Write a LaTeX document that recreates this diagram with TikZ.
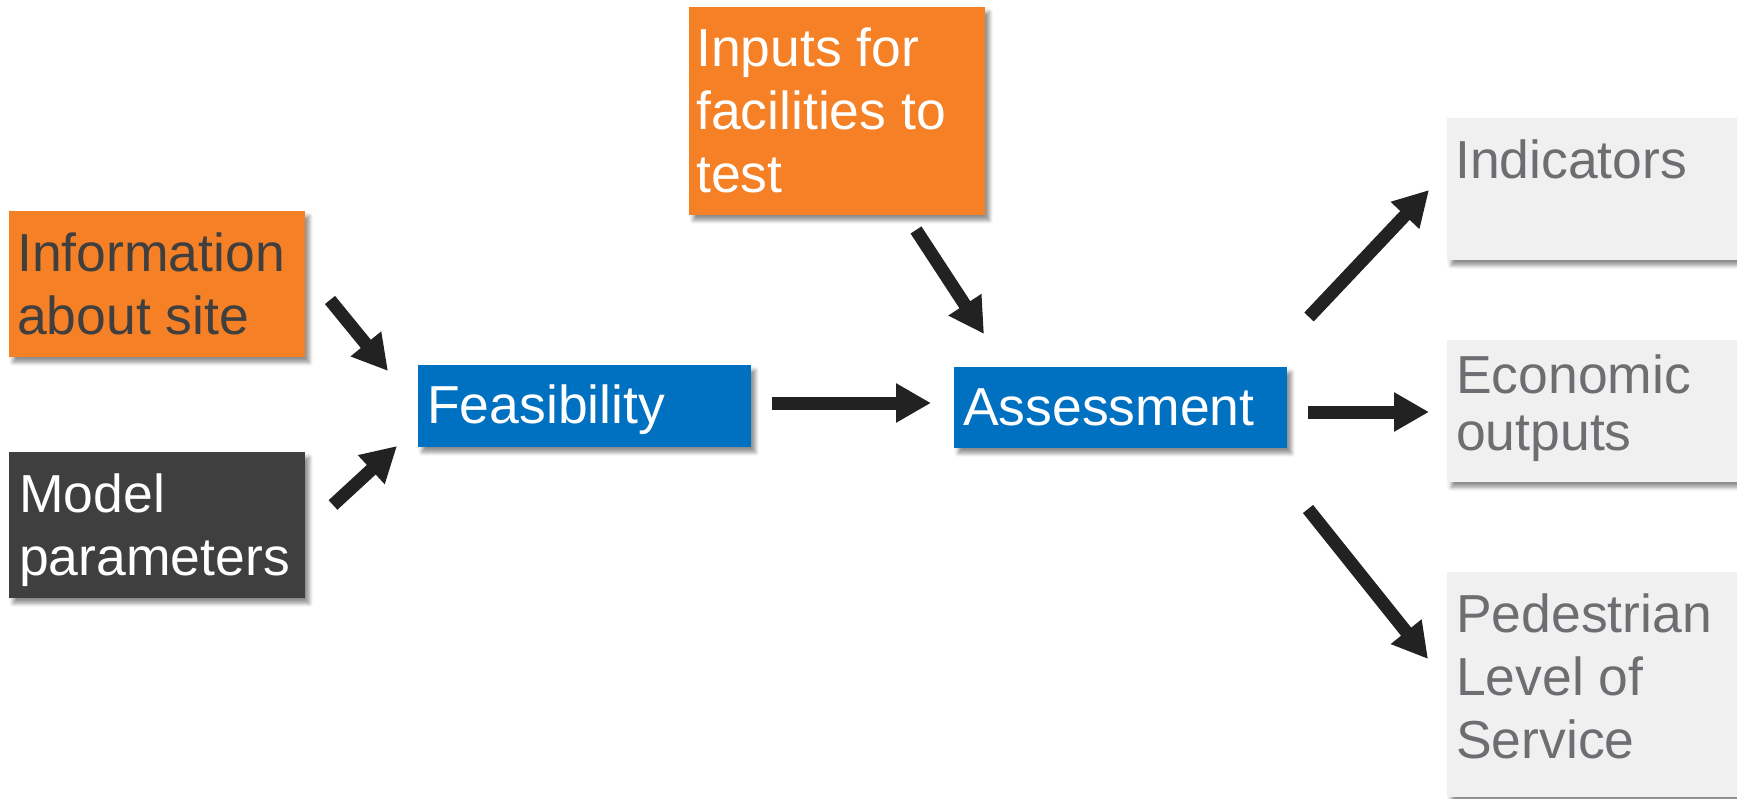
\documentclass[tikz,border=0pt]{standalone}
\usepackage{fontspec}
\setmainfont{Liberation Sans}
\usetikzlibrary{arrows.meta,shadows.blur}

\definecolor{boxorange}{HTML}{F58026}
\definecolor{boxblue}{HTML}{0070C0}
\definecolor{boxdark}{HTML}{3F3F3F}
\definecolor{boxlight}{HTML}{F0F0F0}
\definecolor{textgray}{HTML}{6D6E71}
\definecolor{arrowink}{HTML}{222222}

\tikzset{
  panel/.style={rectangle, anchor=north west, inner sep=0pt, draw=none,
    blur shadow={shadow xshift=4pt, shadow yshift=-5pt,
                 shadow blur radius=4pt, shadow opacity=45}},
  caption/.style={anchor=north west, inner sep=0pt, align=left,
    font=\fontsize{53.5}{63}\selectfont},
  flow/.style={draw=arrowink, line width=13pt,
    -{Triangle[width=37pt,length=35pt]}, fill=arrowink},
}

\begin{document}
\begin{tikzpicture}[x=1pt,y=-1pt]
  \useasboundingbox (0,0) rectangle (1737,799);

  % input boxes
  \node[panel, fill=boxorange, minimum width=296pt, minimum height=146pt] (info) at (9,211) {};
  \node[panel, fill=boxdark, minimum width=296pt, minimum height=146pt] (model) at (9,452) {};
  \node[panel, fill=boxorange, minimum width=296pt, minimum height=208pt] (inputs) at (689,7) {};

  % process boxes
  \node[panel, fill=boxblue, minimum width=333pt, minimum height=82pt] (feas) at (418,365) {};
  \node[panel, fill=boxblue, minimum width=333pt, minimum height=81pt] (assess) at (954,367) {};

  % output boxes (running off the right edge)
  \node[panel, fill=boxlight, minimum width=320pt, minimum height=142pt] (ind) at (1447,118) {};
  \node[panel, fill=boxlight, minimum width=320pt, minimum height=142pt] (econ) at (1447,340) {};
  \node[panel, fill=boxlight, minimum width=320pt, minimum height=225pt] (ped) at (1447,572) {};

  % texts
  \node[caption, text=boxdark] (infotext) at (17,227) {\strut Information\\about site};
  \node[caption, text=white] (modeltext) at (19,468) {\strut Model\\parameters};
  \node[caption, text=white] (inputstext) at (696,22) {\strut Inputs for\\facilities to\\test};
  \node[caption, text=white] (feastext) at (427,379) {\strut Feasibility};
  \node[caption, text=white] (assesstext) at (963,381) {\strut Assessment};
  \node[caption, text=textgray] (indtext) at (1455,134) {\strut Indicators};
  \node[caption, text=textgray, font=\fontsize{53.5}{57}\selectfont] (econtext) at (1456,353) {\strut Economic\\outputs};
  \node[caption, text=textgray] (pedtext) at (1456,588) {\strut Pedestrian\\Level of\\Service};

  % arrow end points
  \coordinate (a1s) at (330,300);  \coordinate (a1e) at (388,371);
  \coordinate (a2s) at (333,505);  \coordinate (a2e) at (397,446);
  \coordinate (a3s) at (772,403);  \coordinate (a3e) at (931,403);
  \coordinate (a4s) at (916,230);  \coordinate (a4e) at (984,334);
  \coordinate (a5s) at (1309,317); \coordinate (a5e) at (1429,190);
  \coordinate (a6s) at (1308,412); \coordinate (a6e) at (1429,412);
  \coordinate (a7s) at (1308,509); \coordinate (a7e) at (1428,659);

  % connectors
  \draw[flow] (a1s) -- (a1e);
  \draw[flow] (a2s) -- (a2e);
  \draw[flow] (a3s) -- (a3e);
  \draw[flow] (a4s) -- (a4e);
  \draw[flow] (a5s) -- (a5e);
  \draw[flow] (a6s) -- (a6e);
  \draw[flow] (a7s) -- (a7e);
\end{tikzpicture}
\end{document}
